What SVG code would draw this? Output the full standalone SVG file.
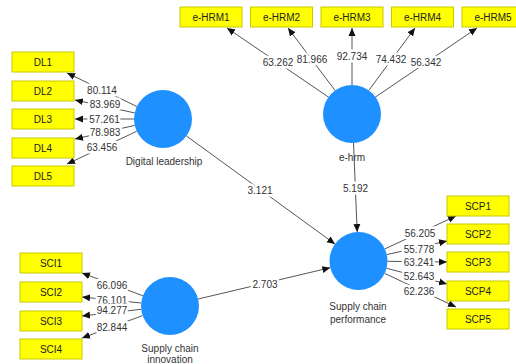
<svg xmlns="http://www.w3.org/2000/svg" width="516" height="364" viewBox="0 0 516 364">
<defs>
<marker id="ah" markerUnits="userSpaceOnUse" markerWidth="9" markerHeight="8" refX="8" refY="4" orient="auto">
<path d="M0,0.5 L8,4 L0,7.5 Z" fill="#111"/>
</marker>
<style>
.box{fill:#ffff00;stroke:#c9c900;stroke-width:1}
.lv{fill:#1e90ff}
.bt{font-family:"Liberation Sans",Arial,sans-serif;font-size:10px;fill:#222;text-anchor:middle}
.nt{font-family:"Liberation Sans",Arial,sans-serif;font-size:10px;fill:#333;text-anchor:middle}
.num{font-family:"Liberation Sans",Arial,sans-serif;font-size:10px;fill:#333;text-anchor:middle;stroke:#fff;stroke-width:5;paint-order:stroke;stroke-linejoin:round}
.ln{stroke:#555;stroke-width:1;fill:none;marker-end:url(#ah)}
</style>
</defs>
<rect width="516" height="364" fill="#fff"/>
<g id="connectors">
<line class="ln" x1="136.9" y1="106.5" x2="67" y2="73"/>
<line class="ln" x1="134.7" y1="112.9" x2="75" y2="100"/>
<line class="ln" x1="134" y1="119" x2="75" y2="119"/>
<line class="ln" x1="134.7" y1="125.4" x2="75" y2="139"/>
<line class="ln" x1="136.7" y1="131.3" x2="67" y2="164"/>
<line class="ln" x1="328.8" y1="97.3" x2="227" y2="28"/>
<line class="ln" x1="335.2" y1="90.6" x2="288" y2="28"/>
<line class="ln" x1="352" y1="85" x2="352" y2="28"/>
<line class="ln" x1="368.7" y1="90.5" x2="415" y2="28"/>
<line class="ln" x1="375.1" y1="97.3" x2="477" y2="28"/>
<line class="ln" x1="142.9" y1="295.8" x2="82" y2="273"/>
<line class="ln" x1="141.2" y1="303" x2="82" y2="297"/>
<line class="ln" x1="141.2" y1="309.3" x2="82" y2="316"/>
<line class="ln" x1="142.6" y1="315.6" x2="82" y2="338"/>
<line class="ln" x1="384.8" y1="248.9" x2="456" y2="216"/>
<line class="ln" x1="386.8" y1="254.6" x2="447" y2="241"/>
<line class="ln" x1="387.5" y1="261.3" x2="447" y2="262"/>
<line class="ln" x1="386.6" y1="268.3" x2="447" y2="284"/>
<line class="ln" x1="384.7" y1="273.4" x2="456" y2="307"/>
<line class="ln" x1="186.5" y1="136" x2="335" y2="244"/>
<line class="ln" x1="353.5" y1="143" x2="357.2" y2="232"/>
<line class="ln" x1="198.2" y1="299" x2="330.3" y2="267.7"/>
<text class="num" x="102" y="93.5">80.114</text>
<text class="num" x="105" y="108">83.969</text>
<text class="num" x="104.5" y="122.5">57.261</text>
<text class="num" x="105" y="136">78.983</text>
<text class="num" x="102" y="151">63.456</text>
<text class="num" x="278" y="66">63.262</text>
<text class="num" x="312" y="63">81.966</text>
<text class="num" x="352" y="60">92.734</text>
<text class="num" x="391" y="63">74.432</text>
<text class="num" x="426" y="66">56.342</text>
<text class="num" x="112" y="288.5">66.096</text>
<text class="num" x="112" y="303.5">76.101</text>
<text class="num" x="112" y="314">94.277</text>
<text class="num" x="112" y="330.5">82.844</text>
<text class="num" x="420" y="236.5">56.205</text>
<text class="num" x="419" y="252.5">55.778</text>
<text class="num" x="419" y="265.5">63.241</text>
<text class="num" x="419" y="279.5">52.643</text>
<text class="num" x="419" y="294.5">62.236</text>
<text class="num" x="260" y="193.5">3.121</text>
<text class="num" x="355.5" y="191.5">5.192</text>
<text class="num" x="265" y="288">2.703</text>
</g>
<g id="DL1"><rect class="box" x="12" y="52" width="62" height="20"/><text class="bt" x="43" y="65.5">DL1</text></g>
<g id="DL2"><rect class="box" x="12" y="81" width="62" height="20"/><text class="bt" x="43" y="94.5">DL2</text></g>
<g id="DL3"><rect class="box" x="12" y="109" width="62" height="20"/><text class="bt" x="43" y="122.5">DL3</text></g>
<g id="DL4"><rect class="box" x="12" y="138" width="62" height="20"/><text class="bt" x="43" y="151.5">DL4</text></g>
<g id="DL5"><rect class="box" x="12" y="166" width="62" height="20"/><text class="bt" x="43" y="179.5">DL5</text></g>
<g id="eHRM1"><rect class="box" x="180" y="7" width="62" height="20"/><text class="bt" x="211" y="20.5">e-HRM1</text></g>
<g id="eHRM2"><rect class="box" x="250.5" y="7" width="62" height="20"/><text class="bt" x="281.5" y="20.5">e-HRM2</text></g>
<g id="eHRM3"><rect class="box" x="321" y="7" width="62" height="20"/><text class="bt" x="352" y="20.5">e-HRM3</text></g>
<g id="eHRM4"><rect class="box" x="391.5" y="7" width="62" height="20"/><text class="bt" x="422.5" y="20.5">e-HRM4</text></g>
<g id="eHRM5"><rect class="box" x="462" y="7" width="62" height="20"/><text class="bt" x="493" y="20.5">e-HRM5</text></g>
<g id="SCI1"><rect class="box" x="20" y="253" width="62" height="20"/><text class="bt" x="51" y="266.5">SCI1</text></g>
<g id="SCI2"><rect class="box" x="20" y="282" width="62" height="20"/><text class="bt" x="51" y="295.5">SCI2</text></g>
<g id="SCI3"><rect class="box" x="20" y="311" width="62" height="20"/><text class="bt" x="51" y="324.5">SCI3</text></g>
<g id="SCI4"><rect class="box" x="20" y="339" width="62" height="20"/><text class="bt" x="51" y="352.5">SCI4</text></g>
<g id="SCP1"><rect class="box" x="447" y="196" width="62" height="20"/><text class="bt" x="478" y="209.5">SCP1</text></g>
<g id="SCP2"><rect class="box" x="447" y="224" width="62" height="20"/><text class="bt" x="478" y="237.5">SCP2</text></g>
<g id="SCP3"><rect class="box" x="447" y="252" width="62" height="20"/><text class="bt" x="478" y="265.5">SCP3</text></g>
<g id="SCP4"><rect class="box" x="447" y="281" width="62" height="20"/><text class="bt" x="478" y="294.5">SCP4</text></g>
<g id="SCP5"><rect class="box" x="447" y="309" width="62" height="20"/><text class="bt" x="478" y="322.5">SCP5</text></g>
<g id="DigitalLeadership"><circle class="lv" cx="163" cy="119" r="29"/><text class="nt" x="164" y="165">Digital leadership</text></g>
<g id="eHrm"><circle class="lv" cx="352" cy="114" r="29"/><text class="nt" x="352" y="161">e-hrm</text></g>
<g id="SupplyChainPerformance"><circle class="lv" cx="358.5" cy="261" r="29"/><text class="nt" x="358" y="310">Supply chain</text><text class="nt" x="358" y="323">performance</text></g>
<g id="SupplyChainInnovation"><circle class="lv" cx="170" cy="306" r="29"/><text class="nt" x="170" y="352">Supply chain</text><text class="nt" x="170" y="363">innovation</text></g>
</svg>
